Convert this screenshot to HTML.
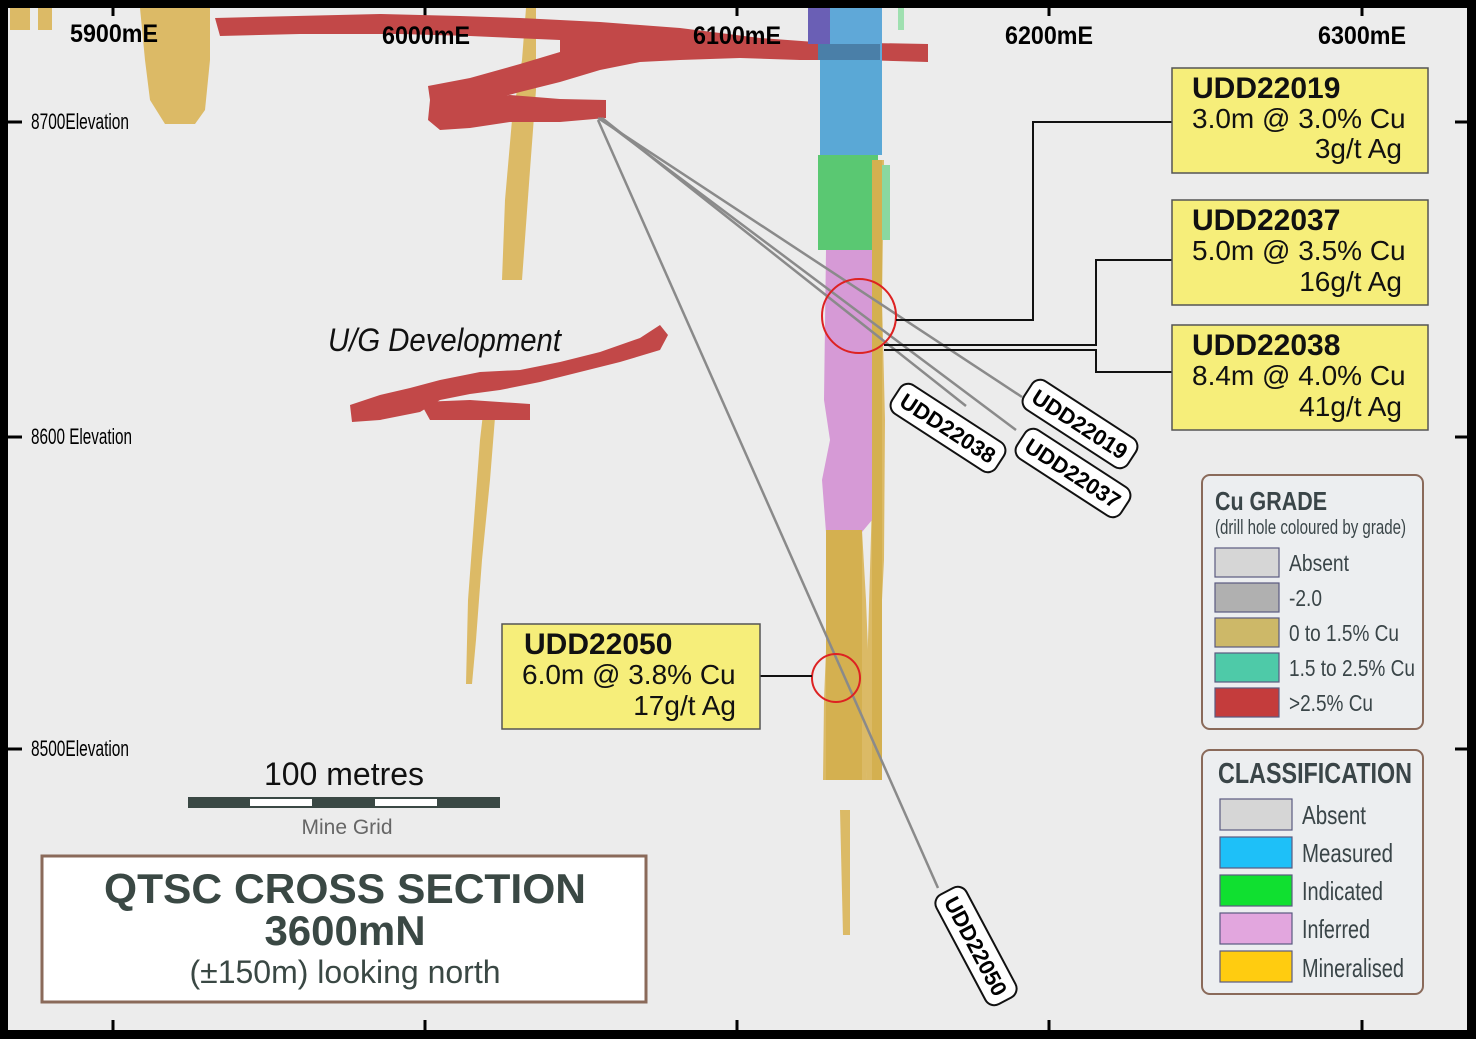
<!DOCTYPE html>
<html><head><meta charset="utf-8"><style>
html,body{margin:0;padding:0;background:#000}
svg{display:block}
text{font-family:"Liberation Sans",sans-serif}
</style></head><body>
<svg width="1476" height="1039" viewBox="0 0 1476 1039" xmlns="http://www.w3.org/2000/svg">
<rect x="0" y="0" width="1476" height="1039" fill="#000"/>
<rect x="8" y="8" width="1459" height="1022" fill="#ececec"/>
<g stroke="#000" stroke-width="3">
<line x1="113" y1="8" x2="113" y2="16"/><line x1="425" y1="8" x2="425" y2="16"/><line x1="737" y1="8" x2="737" y2="16"/><line x1="1049" y1="8" x2="1049" y2="16"/><line x1="1362" y1="8" x2="1362" y2="16"/>
<line x1="113" y1="1020" x2="113" y2="1030"/><line x1="425" y1="1020" x2="425" y2="1030"/><line x1="737" y1="1020" x2="737" y2="1030"/><line x1="1049" y1="1020" x2="1049" y2="1030"/><line x1="1362" y1="1020" x2="1362" y2="1030"/>
<line x1="8" y1="122" x2="22" y2="122"/><line x1="8" y1="437" x2="22" y2="437"/><line x1="8" y1="749" x2="22" y2="749"/>
<line x1="1455" y1="122" x2="1467" y2="122"/><line x1="1455" y1="437" x2="1467" y2="437"/><line x1="1455" y1="749" x2="1467" y2="749"/>
</g>
<g fill="#d9b24f" opacity="0.85">
<path d="M10 8 H30 V30 H10Z M38 8 H52 V30 H38Z"/>
<path d="M140 8 H210 V60 L205 110 L195 124 H165 L150 100 L145 60Z"/>
<path d="M526 8 H536 V90 L530 170 L522 280 H502 L505 200 L512 120 L522 60Z"/>
<path d="M484 405 H496 L490 480 L482 560 L476 640 L472 684 H466 L468 600 L474 520 L480 440Z"/>
<path d="M840 810 H850 V935 H843Z"/>
<path d="M826 530 H862 L866 600 L870 700 L866 780 H823 L824 700 L828 600Z"/>
<path d="M872 160 H884 L882 300 L885 420 L884 560 L878 680 L876 780 H866 L868 640 L872 500 L870 300Z"/>
</g>
<g fill="#c24848">
<path d="M215 18 L380 14 L460 16 L520 18 L600 22 L680 28 L760 38 L815 42 L928 44 L928 62 L860 60 L800 60 L740 58 L680 60 L640 62 L600 70 L560 82 L520 92 L490 100 L440 104 L430 100 L428 86 L470 78 L520 64 L560 52 L560 40 L470 36 L400 34 L300 34 L220 36Z"/>
<path d="M430 100 L470 98 L510 95 L560 99 L606 100 L606 118 L560 122 L510 122 L470 128 L440 130 L428 120Z"/>
<path d="M350 405 L380 395 L410 388 L440 380 L480 372 L520 370 L560 362 L600 352 L640 338 L660 325 L668 335 L660 350 L620 362 L580 372 L540 382 L500 390 L470 394 L440 400 L420 412 L380 420 L352 422Z"/>
<path d="M420 402 L470 400 L530 404 L530 420 L480 420 L430 420Z"/>
</g>
<rect x="820" y="8" width="62" height="60" fill="#5fa8d8"/>
<rect x="808" y="8" width="22" height="36" fill="#6a5fb5"/>
<rect x="818" y="44" width="62" height="16" fill="#4a7fa8"/>
<rect x="820" y="60" width="62" height="95" fill="#5aa8d6"/>
<rect x="818" y="155" width="60" height="95" fill="#5ac872"/>
<rect x="882" y="165" width="8" height="75" fill="#8ad8a0"/>
<rect x="898" y="8" width="6" height="22" fill="#9fe0b0"/>
<path d="M826 250 H872 V520 L862 532 H826 L822 480 L830 440 L824 400Z" fill="#d69ad6"/>
<rect x="872" y="160" width="10" height="620" fill="#d4b050"/>
<rect x="826" y="530" width="36" height="250" fill="#d4b050"/>
<g stroke="#8a8a8a" stroke-width="2.5" fill="none">
<line x1="598" y1="118" x2="1022" y2="397"/>
<line x1="600" y1="118" x2="1016" y2="430"/>
<line x1="602" y1="118" x2="966" y2="406"/>
<line x1="598" y1="120" x2="938" y2="888"/>
</g>
<circle cx="859" cy="316" r="37" fill="none" stroke="#d22" stroke-width="2"/>
<circle cx="836" cy="678" r="24" fill="none" stroke="#d22" stroke-width="2"/>
<g stroke="#111" stroke-width="2" fill="none">
<polyline points="896,320 1033,320 1033,122 1172,122"/>
<polyline points="884,345 1096,345 1096,260 1172,260"/>
<polyline points="884,350 1096,350 1096,372 1172,372"/>
<line x1="760" y1="676" x2="812" y2="676"/>
</g>
<g stroke="#555" stroke-width="1.5" fill="#f6ee7a">
<rect x="1172" y="68" width="256" height="105"/>
<rect x="1172" y="200" width="256" height="105"/>
<rect x="1172" y="325" width="256" height="105"/>
<rect x="502" y="624" width="258" height="105"/>
</g>
<g fill="#111" font-size="28">
<text x="1192" y="98" font-weight="bold" font-size="30">UDD22019</text>
<text x="1192" y="128">3.0m @ 3.0% Cu</text>
<text x="1402" y="158" text-anchor="end">3g/t Ag</text>
<text x="1192" y="230" font-weight="bold" font-size="30">UDD22037</text>
<text x="1192" y="260">5.0m @ 3.5% Cu</text>
<text x="1402" y="291" text-anchor="end">16g/t Ag</text>
<text x="1192" y="355" font-weight="bold" font-size="30">UDD22038</text>
<text x="1192" y="385">8.4m @ 4.0% Cu</text>
<text x="1402" y="416" text-anchor="end">41g/t Ag</text>
<text x="524" y="654" font-weight="bold" font-size="30">UDD22050</text>
<text x="522" y="684">6.0m @ 3.8% Cu</text>
<text x="736" y="715" text-anchor="end">17g/t Ag</text>
</g>
<g font-size="22" font-weight="bold">
<g transform="translate(1080,424) rotate(33)"><rect x="-62" y="-17" width="124" height="34" rx="10" fill="#fff" stroke="#111" stroke-width="2"/><text x="0" y="8" text-anchor="middle">UDD22019</text></g>
<g transform="translate(1073,473) rotate(33)"><rect x="-62" y="-17" width="124" height="34" rx="10" fill="#fff" stroke="#111" stroke-width="2"/><text x="0" y="8" text-anchor="middle">UDD22037</text></g>
<g transform="translate(948,428) rotate(33)"><rect x="-62" y="-17" width="124" height="34" rx="10" fill="#fff" stroke="#111" stroke-width="2"/><text x="0" y="8" text-anchor="middle">UDD22038</text></g>
<g transform="translate(976,946) rotate(62)"><rect x="-62" y="-17" width="124" height="34" rx="10" fill="#fff" stroke="#111" stroke-width="2"/><text x="0" y="8" text-anchor="middle">UDD22050</text></g>
</g>
<g font-weight="bold" font-size="25" fill="#000">
<text x="70" y="42" textLength="88" lengthAdjust="spacingAndGlyphs">5900mE</text>
<text x="382" y="44" textLength="88" lengthAdjust="spacingAndGlyphs">6000mE</text>
<text x="693" y="44" textLength="88" lengthAdjust="spacingAndGlyphs">6100mE</text>
<text x="1005" y="44" textLength="88" lengthAdjust="spacingAndGlyphs">6200mE</text>
<text x="1318" y="44" textLength="88" lengthAdjust="spacingAndGlyphs">6300mE</text>
</g>
<g font-size="22" fill="#000">
<text x="31" y="129" textLength="98" lengthAdjust="spacingAndGlyphs">8700Elevation</text>
<text x="31" y="444" textLength="101" lengthAdjust="spacingAndGlyphs">8600 Elevation</text>
<text x="31" y="756" textLength="98" lengthAdjust="spacingAndGlyphs">8500Elevation</text>
</g>
<text x="328" y="351" font-size="32" font-style="italic" fill="#111" textLength="233" lengthAdjust="spacingAndGlyphs">U/G Development</text>
<text x="344" y="785" font-size="32" text-anchor="middle" fill="#111">100 metres</text>
<rect x="188" y="797" width="312" height="11" fill="#3a4844"/>
<rect x="250" y="799" width="62" height="7" fill="#fff"/>
<rect x="375" y="799" width="62" height="7" fill="#fff"/>
<text x="347" y="834" font-size="21" text-anchor="middle" fill="#666">Mine Grid</text>
<rect x="42" y="856" width="604" height="146" fill="#fff" stroke="#8a6a5a" stroke-width="3"/>
<text x="104" y="903" font-size="42" font-weight="bold" fill="#3a4844" textLength="482" lengthAdjust="spacingAndGlyphs">QTSC CROSS SECTION</text>
<text x="345" y="945" font-size="42" font-weight="bold" text-anchor="middle" fill="#3a4844">3600mN</text>
<text x="345" y="983" font-size="32" text-anchor="middle" fill="#3a4844">(±150m) looking north</text>
<rect x="1202" y="475" width="221" height="254" rx="8" fill="#eceef0" stroke="#8a6a5a" stroke-width="2"/>
<text x="1215" y="510" font-size="26" font-weight="bold" fill="#3a4548" textLength="112" lengthAdjust="spacingAndGlyphs">Cu GRADE</text>
<text x="1215" y="534" font-size="20" fill="#3a4548" textLength="191" lengthAdjust="spacingAndGlyphs">(drill hole coloured by grade)</text>
<g stroke="#5a5a80" stroke-width="1.2">
<rect x="1215" y="548" width="64" height="29" fill="#d6d6d6"/>
<rect x="1215" y="583" width="64" height="29" fill="#b0b0b0"/>
<rect x="1215" y="618" width="64" height="29" fill="#cdb868"/>
<rect x="1215" y="653" width="64" height="29" fill="#4ecaa8"/>
<rect x="1215" y="688" width="64" height="29" fill="#c43c3c"/>
</g>
<g font-size="23" fill="#3a4548">
<text x="1289" y="571" textLength="60" lengthAdjust="spacingAndGlyphs">Absent</text>
<text x="1289" y="606" textLength="33" lengthAdjust="spacingAndGlyphs">-2.0</text>
<text x="1289" y="641" textLength="110" lengthAdjust="spacingAndGlyphs">0  to 1.5% Cu</text>
<text x="1289" y="676" textLength="126" lengthAdjust="spacingAndGlyphs">1.5  to 2.5% Cu</text>
<text x="1289" y="711" textLength="84" lengthAdjust="spacingAndGlyphs">&gt;2.5% Cu</text>
</g>
<rect x="1202" y="750" width="221" height="244" rx="8" fill="#eceef0" stroke="#8a6a5a" stroke-width="2"/>
<text x="1218" y="783" font-size="29" font-weight="bold" fill="#3a4548" textLength="194" lengthAdjust="spacingAndGlyphs">CLASSIFICATION</text>
<g stroke="#5a5a80" stroke-width="1.2">
<rect x="1220" y="799" width="72" height="31" fill="#d6d6d6"/>
<rect x="1220" y="837" width="72" height="31" fill="#1ec0f8"/>
<rect x="1220" y="875" width="72" height="31" fill="#10e030"/>
<rect x="1220" y="913" width="72" height="31" fill="#e2a6de"/>
<rect x="1220" y="951" width="72" height="31" fill="#ffcc10"/>
</g>
<g font-size="26" fill="#3a4548">
<text x="1302" y="824" textLength="64" lengthAdjust="spacingAndGlyphs">Absent</text>
<text x="1302" y="862" textLength="91" lengthAdjust="spacingAndGlyphs">Measured</text>
<text x="1302" y="900" textLength="81" lengthAdjust="spacingAndGlyphs">Indicated</text>
<text x="1302" y="938" textLength="68" lengthAdjust="spacingAndGlyphs">Inferred</text>
<text x="1302" y="977" textLength="102" lengthAdjust="spacingAndGlyphs">Mineralised</text>
</g>
</svg>
</body></html>
